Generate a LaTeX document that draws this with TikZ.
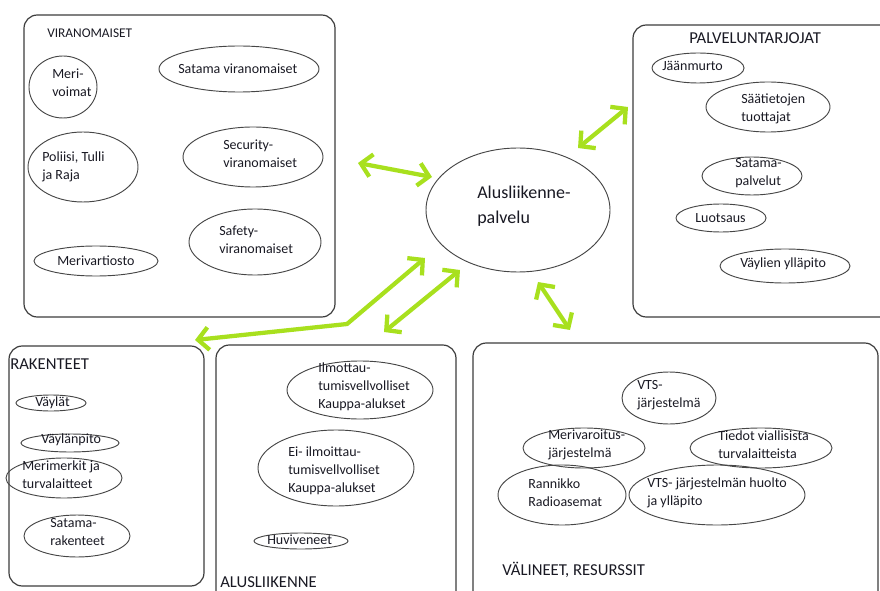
\documentclass[tikz,border=0pt]{standalone}
\usepackage{fontspec}
\setmainfont{Carlito}
\usetikzlibrary{shapes.geometric,arrows.meta}
\definecolor{lime}{RGB}{168,224,30}
\definecolor{boxline}{RGB}{60,60,60}
\definecolor{ellline}{RGB}{70,70,70}
\definecolor{ink}{RGB}{25,25,35}
\tikzset{
  box/.style={draw=boxline, line width=0.9pt, rounded corners=10pt},
  ell/.style={draw=ellline, line width=0.7pt, ellipse, inner sep=0pt},
  txt/.style={anchor=west, align=left, inner sep=0pt, text=ink, font=\fontsize{10.5}{13.6}\selectfont},
  ttl/.style={anchor=west, inner sep=0pt, text=ink, font=\fontsize{12.5}{15}\selectfont},
  link/.style={draw=lime, line width=3.2pt, line cap=round, line join=round,
    {Straight Barb[length=8pt,width=17pt,line width=3.2pt]}-{Straight Barb[length=8pt,width=17pt,line width=3.2pt]}},
}
\newcommand\ellnode[5]{\node[ell, minimum width=#4*1.5pt, minimum height=#5*1.5pt] (#1) at (#2,#3) {};}
\begin{document}
\begin{tikzpicture}[x=0.75pt,y=-0.75pt]
\useasboundingbox (0,0) rectangle (880,591);
% boxes
\draw[box] (24,15) rectangle (335,317);
\draw[box] (633,25) rectangle (900,317);
\draw[box] (9,346) rectangle (204,586);
\draw[box] (216,345) rectangle (456,605);
\draw[box] (473,343) rectangle (878,605);
% titles
\node[ttl, font=\fontsize{10}{12}\selectfont] (tvir) at (47,33) {VIRANOMAISET};
\node[ttl] (tpal) at (689,38) {PALVELUNTARJOJAT};
\node[ttl] (trak) at (10,364) {RAKENTEET};
\node[ttl] (talu) at (220,582) {ALUSLIIKENNE};
\node[ttl] (tval) at (502,570) {VÄLINEET, RESURSSIT};
% VIRANOMAISET
\ellnode{merivoimat}{63}{87}{34}{31}
\node[txt] at (52,83) {Meri-\\voimat};
\ellnode{satvir}{239}{69}{80}{23}
\node[txt] at (178,69) {Satama viranomaiset};
\ellnode{poliisi}{83}{167}{55}{35}
\node[txt] at (42,167) {Poliisi, Tulli\\ja Raja};
\ellnode{security}{253}{157}{70}{30}
\node[txt] at (223,154) {Security-\\viranomaiset};
\ellnode{safety}{255}{242}{66}{33}
\node[txt] at (219,240) {Safety-\\viranomaiset};
\ellnode{merivart}{96}{261}{62}{15}
\node[txt] at (57,261) {Merivartiosto};
% PALVELUNTARJOJAT
\ellnode{jaan}{698}{68}{46}{15}
\node[txt] at (662,66) {Jäänmurto};
\ellnode{saa}{768}{107}{62}{25}
\node[txt] at (741,109) {Säätietojen\\tuottajat};
\ellnode{satpal}{752}{176}{50}{19}
\node[txt] at (735,173) {Satama-\\palvelut};
\ellnode{luotsaus}{721}{218}{45}{14}
\node[txt] at (695,218) {Luotsaus};
\ellnode{vayyl}{785}{266}{65}{17}
\node[txt] at (740,264) {Väylien ylläpito};
% center
\ellnode{center}{518}{210}{92}{62}
\node[txt, font=\fontsize{13.5}{18.5}\selectfont] at (477,206) {Alusliikenne-\\palvelu};
% RAKENTEET
\ellnode{vaylat}{51}{403}{35}{8}
\node[txt] at (35,403) {Väylät};
\ellnode{vaylanpito}{70}{443}{49}{9}
\node[txt] at (41,440) {Väylänpito};
\ellnode{merimerkit}{64}{478}{58}{20}
\node[txt] at (22,475) {Merimerkit ja\\turvalaitteet};
\ellnode{satrak}{77}{536}{53}{21}
\node[txt] at (50,532) {Satama-\\rakenteet};
% ALUSLIIKENNE
\ellnode{ilm}{360}{390}{73}{29}
\node[txt] at (318,387) {Ilmottau-\\tumisvellvolliset\\Kauppa-alukset};
\ellnode{eiilm}{336}{468}{78}{38}
\node[txt] at (288,471) {Ei- ilmoittau-\\tumisvellvolliset\\Kauppa-alukset};
\ellnode{huvi}{301}{541}{47}{8}
\node[txt] at (267,540) {Huviveneet};
% VALINEET
\ellnode{vts}{669}{398}{47}{26}
\node[txt] at (637,395) {VTS-\\järjestelmä};
\ellnode{merivar}{584}{448}{61}{20}
\node[txt] at (548,445) {Merivaroitus-\\järjestelmä};
\ellnode{tiedot}{761}{448}{71}{20}
\node[txt] at (718,445) {Tiedot viallisista\\turvalaitteista};
\ellnode{rannikko}{562}{495}{64}{30}
\node[txt] at (528,493) {Rannikko\\Radioasemat};
\ellnode{vtshuolto}{717}{495}{88}{30}
\node[txt] at (647,493) {VTS- järjestelmän huolto\\ja ylläpito};
% arrow end points
\coordinate (a1s) at (358,163); \coordinate (a1e) at (432,177);
\coordinate (a2s) at (578,148); \coordinate (a2e) at (628,107);
\coordinate (a3s) at (538,282); \coordinate (a3e) at (570,330);
\coordinate (a4s) at (460,270); \coordinate (a4e) at (384,332);
\coordinate (a5s) at (425,258); \coordinate (a5m) at (347,324); \coordinate (a5e) at (195,340);
\draw[link] (a1s) -- (a1e);
\draw[link] (a2s) -- (a2e);
\draw[link] (a3s) -- (a3e);
\draw[link] (a4s) -- (a4e);
\draw[link] (a5s) -- (a5m) -- (a5e);
\end{tikzpicture}
\end{document}
